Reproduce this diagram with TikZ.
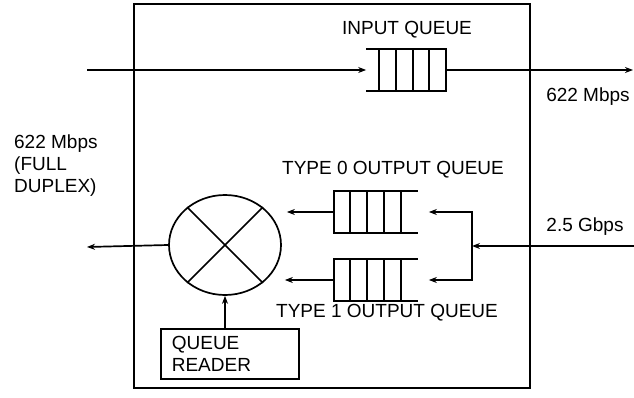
\documentclass[tikz,border=0pt]{standalone}
\usepackage{fontspec}
\setmainfont{Liberation Sans}
\usetikzlibrary{arrows.meta,shapes.geometric}

\tikzset{
  queuebox/.style={minimum width=82, minimum height=40, inner sep=0pt},
  readerbox/.style={draw, anchor=north west, align=left, text width=116pt,
                    inner xsep=11pt, minimum width=138, minimum height=50},
}

\begin{document}
\begin{tikzpicture}[x=1pt, y=-1pt, line width=1.7pt,
    every node/.style={font=\fontsize{19}{22}\selectfont},
    >={Stealth[length=8pt,width=6pt]}]
  \useasboundingbox (0,0) rectangle (634,398);
  % switch unit
  \node[draw, anchor=north west, minimum width=396, minimum height=384, inner sep=0pt] (unit) at (133,3) {};
  % input queue
  \node[queuebox, minimum width=78] (inq) at (406,70) {};
  \draw (inq.north west) -- (inq.north east) -- (inq.south east) -- (inq.south west);
  \foreach \d in {17,33,50,67}
    \draw ([xshift=-\d]inq.north east) -- ([xshift=-\d]inq.south east);
  % output queues
  \node[queuebox] (outq0) at (376,212) {};
  \node[queuebox] (outq1) at (376,280) {};
  \foreach \q in {outq0,outq1} {
    \draw (\q.north east) -- (\q.north west) -- (\q.south west) -- (\q.south east);
    \foreach \d in {16,33,50,67}
      \draw ([xshift=\d]\q.north west) -- ([xshift=\d]\q.south west);
  }
  % crossbar and reader
  \node[draw, ellipse, minimum width=112, minimum height=100, inner sep=0pt] (xbar) at (225,245) {};
  \draw (xbar.45) -- (xbar.225);
  \draw (xbar.135) -- (xbar.-45);
  \node[readerbox] (reader) at (160,328) {QUEUE\\READER};
  % links
  \coordinate (inA) at (87,70);
  \coordinate (outA) at (633,70);
  \coordinate (outB) at (87,247);
  \coordinate (inB) at (634,246);
  \coordinate (split) at (472,246);
  \draw[->] (inA) -- (inq.west);
  \draw[->] (inq.east) -- (outA);
  \draw[->] (xbar.west) -- (outB);
  \draw[->, shorten >=5pt] (outq0.west) -- (outq0.west -| xbar.east);
  \draw[->, shorten >=3pt] (outq1.west) -- (outq1.west -| xbar.east);
  \draw[->] (inB) -- (split);
  \draw[->, shorten >=11pt] (split) |- (outq0.east);
  \draw[->, shorten >=11pt] (split) |- (outq1.east);
  \draw[->] (reader.north -| xbar.south) -- (xbar.south);
  % labels
  \node (inqlabel) at (407,30) {INPUT QUEUE};
  \node (outAlabel) at (588,97) {622 Mbps};
  \node[anchor=north west, align=left] (outBlabel) at (10,131) {622 Mbps\\(FULL\\DUPLEX)};
  \node (q0label) at (393,170) {TYPE 0 OUTPUT QUEUE};
  \node (q1label) at (387,313) {TYPE 1 OUTPUT QUEUE};
  \node (inBlabel) at (585,227) {2.5 Gbps};
\end{tikzpicture}
\end{document}
